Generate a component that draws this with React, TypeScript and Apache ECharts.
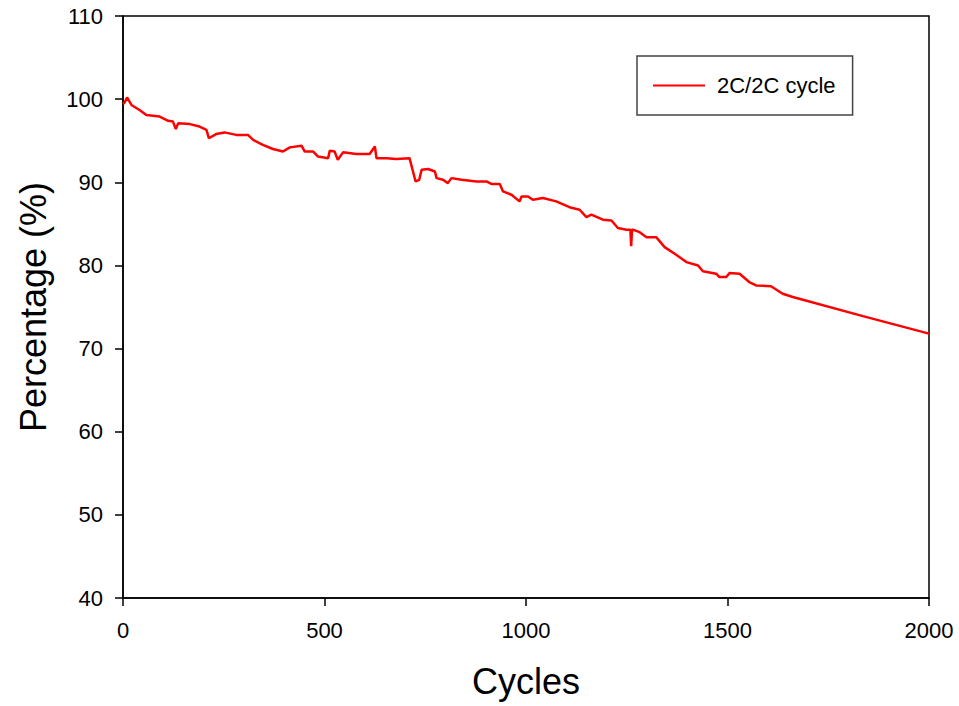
import React, { useEffect, useRef } from "react";
import * as echarts from "echarts";

const cycles = [
  0, 4, 10, 21, 41, 58, 91, 112, 124, 131, 137, 166, 190, 207, 213, 231, 252, 281, 310, 323,
  347, 372, 397, 414, 443, 451, 472, 484, 509, 513, 525, 533, 546, 579, 612, 625, 629, 654,
  678, 711, 718, 726, 735, 741, 757, 774, 778, 794, 806, 815, 840, 877, 902, 914, 935, 943,
  964, 984, 989, 1005, 1017, 1042, 1075, 1108, 1133, 1150, 1162, 1191, 1212, 1228, 1249,
  1259, 1261, 1263, 1265, 1282, 1299, 1323, 1344, 1369, 1398, 1427, 1439, 1472, 1480, 1497,
  1505, 1530, 1554, 1571, 1608, 1637, 1662, 1836, 2000,
];
const values = [
  99.4, 99.6, 100.2, 99.3, 98.7, 98.1, 97.9, 97.4, 97.3, 96.4, 97.1, 97.0, 96.7, 96.3, 95.3,
  95.8, 96.0, 95.7, 95.7, 95.1, 94.5, 94.0, 93.7, 94.2, 94.4, 93.7, 93.7, 93.1, 92.9, 93.8,
  93.7, 92.7, 93.6, 93.4, 93.4, 94.3, 92.9, 92.9, 92.8, 92.9, 91.6, 90.1, 90.3, 91.5, 91.6,
  91.3, 90.5, 90.3, 89.9, 90.5, 90.3, 90.1, 90.1, 89.8, 89.8, 88.9, 88.5, 87.7, 88.3, 88.3,
  87.9, 88.1, 87.7, 87.0, 86.7, 85.8, 86.1, 85.5, 85.4, 84.5, 84.3, 84.3, 82.3, 84.3, 84.3,
  84.0, 83.4, 83.4, 82.2, 81.4, 80.4, 80.0, 79.3, 79.0, 78.6, 78.6, 79.1, 79.0, 78.0, 77.6,
  77.5, 76.6, 76.2, 73.9, 71.8,
];
const xTicks = { min: 0, max: 2000, interval: 500 };
const yTicks = { min: 40, max: 110, interval: 10 };
const seriesName = "2C/2C cycle";

export default function App() {
  const ref = useRef<HTMLDivElement>(null);
  useEffect(() => {
    if (!ref.current) return;
    const chart = echarts.init(ref.current, null, { renderer: "svg" });
    const font = "Liberation Sans, Arial, sans-serif";
    chart.setOption({
      animation: false,
      backgroundColor: "#fff",
      textStyle: { fontFamily: font },
      grid: {
        left: 123,
        top: 16,
        right: 30,
        bottom: 108,
        show: true,
        borderColor: "#000",
        borderWidth: 1.5,
        containLabel: false,
      },
      legend: {
        left: 637,
        top: 56,
        orient: "vertical",
        padding: [17, 17, 17, 16],
        borderColor: "#444",
        borderWidth: 1.5,
        itemWidth: 52,
        itemHeight: 14,
        backgroundColor: "#fff",
        textStyle: {
          fontFamily: font,
          fontSize: 22,
          color: "#000",
          lineHeight: 25,
          padding: [0, 0, 0, 7],
        },
        data: [{ name: seriesName, icon: "path://M0,0 L52,0 L52,2 L0,2 Z" }],
        itemStyle: { color: "#ff0000" },
      },
      xAxis: {
        type: "value",
        min: xTicks.min,
        max: xTicks.max,
        interval: xTicks.interval,
        name: "Cycles",
        nameLocation: "middle",
        nameGap: 65,
        nameTextStyle: { fontFamily: font, fontSize: 36, color: "#000" },
        axisLine: { show: true, onZero: false, lineStyle: { color: "#000", width: 1.5 } },
        axisTick: { show: true, inside: false, length: 8, lineStyle: { color: "#000", width: 1.5 } },
        axisLabel: {
          fontFamily: font,
          fontSize: 22,
          color: "#000",
          margin: 21,
          formatter: (v: number) => String(v),
        },
        splitLine: { show: false },
      },
      yAxis: {
        type: "value",
        min: yTicks.min,
        max: yTicks.max,
        interval: yTicks.interval,
        name: "Percentage (%)",
        nameLocation: "middle",
        nameGap: 72,
        nameTextStyle: { fontFamily: font, fontSize: 36, color: "#000" },
        axisLine: { show: true, onZero: false, lineStyle: { color: "#000", width: 1.5 } },
        axisTick: { show: true, inside: false, length: 8, lineStyle: { color: "#000", width: 1.5 } },
        axisLabel: {
          fontFamily: font,
          fontSize: 22,
          color: "#000",
          margin: 20,
          formatter: (v: number) => String(v),
        },
        splitLine: { show: false },
      },
      series: [
        {
          name: seriesName,
          type: "line",
          symbol: "none",
          data: cycles.map((c, i) => [c, values[i]]),
          lineStyle: { color: "#ff0000", width: 2.5 },
          itemStyle: { color: "#ff0000" },
        },
      ],
    });
    return () => chart.dispose();
  }, []);
  return (
    <div
      ref={ref}
      style={{ position: "fixed", left: 0, top: 0, width: 959, height: 706, background: "#fff" }}
    />
  );
}
